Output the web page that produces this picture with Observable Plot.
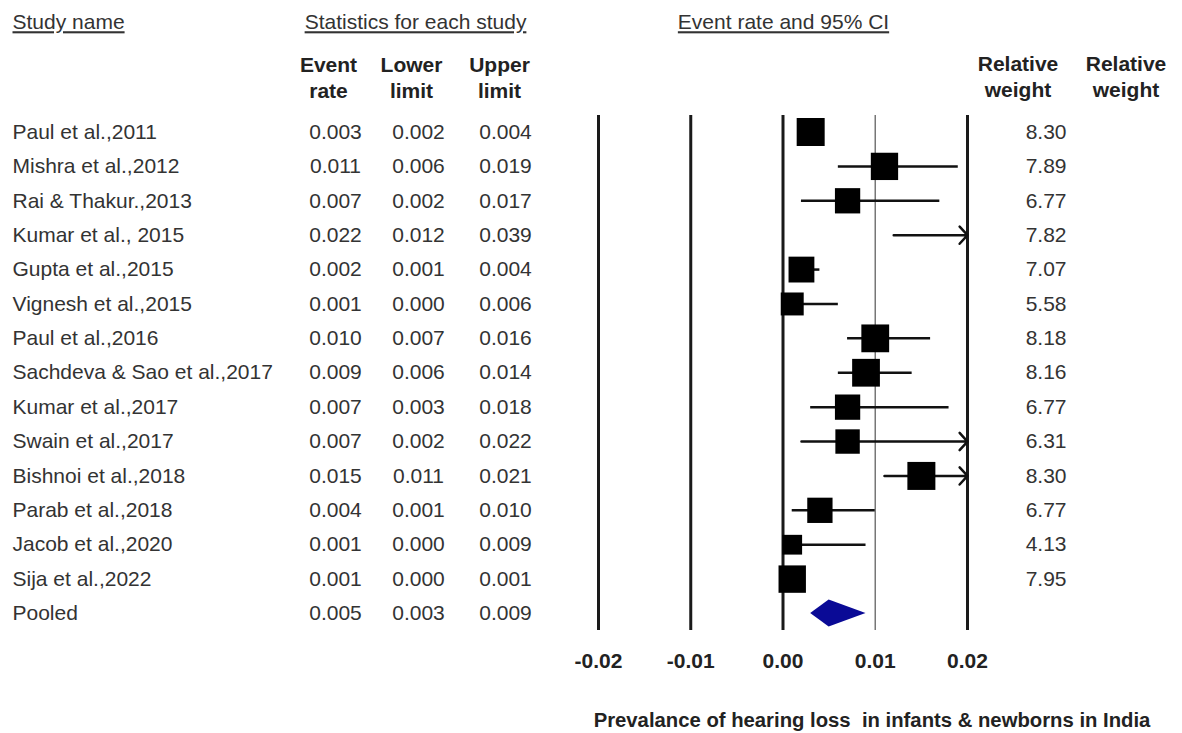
<!DOCTYPE html>
<html>
<head>
<meta charset="utf-8">
<script src="https://cdn.jsdelivr.net/npm/d3@7"></script>
<script src="https://cdn.jsdelivr.net/npm/@observablehq/plot@0.6"></script>
<style>
  html, body { margin: 0; padding: 0; background: white; overflow: hidden; }
  .ul text { text-decoration: underline; }
</style>
</head>
<body>
<div id="chart"></div>
<script>
const studies = ["Paul et al.,2011","Mishra et al.,2012","Rai & Thakur.,2013","Kumar et al., 2015","Gupta et al.,2015","Vignesh et al.,2015","Paul et al.,2016","Sachdeva & Sao et al.,2017","Kumar et al.,2017","Swain et al.,2017","Bishnoi et al.,2018","Parab et al.,2018","Jacob et al.,2020","Sija et al.,2022","Pooled"];
const eventRate = [0.003,0.011,0.007,0.022,0.002,0.001,0.010,0.009,0.007,0.007,0.015,0.004,0.001,0.001,0.005];
const lowerLimit = [0.002,0.006,0.002,0.012,0.001,0.000,0.007,0.006,0.003,0.002,0.011,0.001,0.000,0.000,0.003];
const upperLimit = [0.004,0.019,0.017,0.039,0.004,0.006,0.016,0.014,0.018,0.022,0.021,0.010,0.009,0.001,0.009];
const relWeight = [8.30,7.89,6.77,7.82,7.07,5.58,8.18,8.16,6.77,6.31,8.30,6.77,4.13,7.95,null];
const xTicks = [-0.02,-0.01,0.00,0.01,0.02];
const axisTitle = "Prevalance of hearing loss  in infants & newborns in India";

const rows = studies.map((name, i) => ({
  i, name, event: eventRate[i], lower: lowerLimit[i], upper: upperLimit[i], weight: relWeight[i]
}));
const xMax = d3.max(xTicks);
const studyRows = rows.filter(d => d.name !== "Pooled");
const pooled = rows.find(d => d.name === "Pooled");
const inRange = studyRows.filter(d => d.upper <= xMax);
const clipped = studyRows.filter(d => d.upper > xMax).map(d => ({...d, end: xMax}));
const markers = studyRows.filter(d => d.event <= xMax);
const dh = 0.39;
const diamond = [
  {y: pooled.i - dh, x1: pooled.event, x2: pooled.event},
  {y: pooled.i, x1: pooled.lower, x2: pooled.upper},
  {y: pooled.i + dh, x1: pooled.event, x2: pooled.event}
];

const FS = 21;
const TXT = "#333";
const FONT = "'Liberation Sans', Arial, sans-serif";
const fmt3 = d => d.toFixed(3);
const hdr = {frameAnchor: "top-left", lineAnchor: "middle", fontSize: FS, fill: TXT};
const bold = {lineAnchor: "middle", textAnchor: "middle", lineHeight: 1.24, fontSize: FS, fontWeight: "bold", fill: "#222"};

const chart = Plot.plot({
  width: 1182,
  height: 733,
  marginLeft: 598,
  marginRight: 215,
  marginTop: 115,
  marginBottom: 103,
  style: {fontFamily: FONT, fontSize: FS + "px", color: TXT, background: "white"},
  x: {domain: [xTicks[0], xMax]},
  y: {domain: [0, studies.length - 1], range: [131.5, 613], axis: null},
  r: {type: "sqrt", domain: [0, d3.max(relWeight)], range: [0, 15.8]},
  marks: [
    // vertical gridlines
    Plot.ruleX(xTicks.filter(t => t !== 0.01), {stroke: "#1a1a1a", strokeWidth: 3}),
    Plot.ruleX(xTicks.filter(t => t === 0.01), {stroke: "#777", strokeWidth: 1.5}),
    // CI lines
    Plot.ruleY(inRange, {y: "i", x1: "lower", x2: "upper", stroke: "#111", strokeWidth: 2.5}),
    Plot.arrow(clipped, {x1: "lower", x2: "end", y1: "i", y2: "i", stroke: "#111", strokeWidth: 2.5, headLength: 7, headAngle: 95}),
    // study markers
    Plot.dot(markers, {x: "event", y: "i", r: "weight", symbol: "square", fill: "black"}),
    // pooled diamond
    Plot.areaX(diamond, {y: "y", x1: "x1", x2: "x2", fill: "#0a0a96", curve: "linear"}),
    // x axis
    Plot.axisX({ticks: xTicks, tickFormat: d => d.toFixed(2), tickSize: 0, tickPadding: 23, fontSize: FS, fontWeight: "bold", fill: "#222", label: null}),
    Plot.text([axisTitle], {frameAnchor: "bottom", lineAnchor: "middle", dx: 89, dy: 90, fontSize: 20.3, fontWeight: "bold", fill: "#222"}),
    // table body
    Plot.text(rows, {y: "i", text: "name", frameAnchor: "left", dx: -586, textAnchor: "start", fontSize: FS, fill: TXT}),
    Plot.text(rows, {y: "i", text: d => fmt3(d.event), frameAnchor: "left", dx: -263, textAnchor: "middle", fontSize: FS, fill: TXT}),
    Plot.text(rows, {y: "i", text: d => fmt3(d.lower), frameAnchor: "left", dx: -180, textAnchor: "middle", fontSize: FS, fill: TXT}),
    Plot.text(rows, {y: "i", text: d => fmt3(d.upper), frameAnchor: "left", dx: -93, textAnchor: "middle", fontSize: FS, fill: TXT}),
    Plot.text(studyRows, {y: "i", text: d => d.weight.toFixed(2), frameAnchor: "right", dx: 99, textAnchor: "end", fontSize: FS, fill: TXT}),
    // headers
    Plot.text(["Study name"], {...hdr, dx: -586, dy: -93, textAnchor: "start", className: "ul"}),
    Plot.text(["Statistics for each study"], {...hdr, dx: -183, dy: -93, textAnchor: "middle", className: "ul"}),
    Plot.text(["Event rate and 95% CI"], {...hdr, dx: 185, dy: -93, textAnchor: "middle", className: "ul"}),
    Plot.text(["Event\nrate"], {...bold, frameAnchor: "top-left", dx: -270, dy: -39}),
    Plot.text(["Lower\nlimit"], {...bold, frameAnchor: "top-left", dx: -187, dy: -39}),
    Plot.text(["Upper\nlimit"], {...bold, frameAnchor: "top-left", dx: -99, dy: -39}),
    Plot.text(["Relative\nweight"], {...bold, frameAnchor: "top-right", dx: 50.5, dy: -40}),
    Plot.text(["Relative\nweight"], {...bold, frameAnchor: "top-right", dx: 158.5, dy: -40})
  ]
});
document.getElementById("chart").appendChild(chart);
</script>
</body>
</html>
